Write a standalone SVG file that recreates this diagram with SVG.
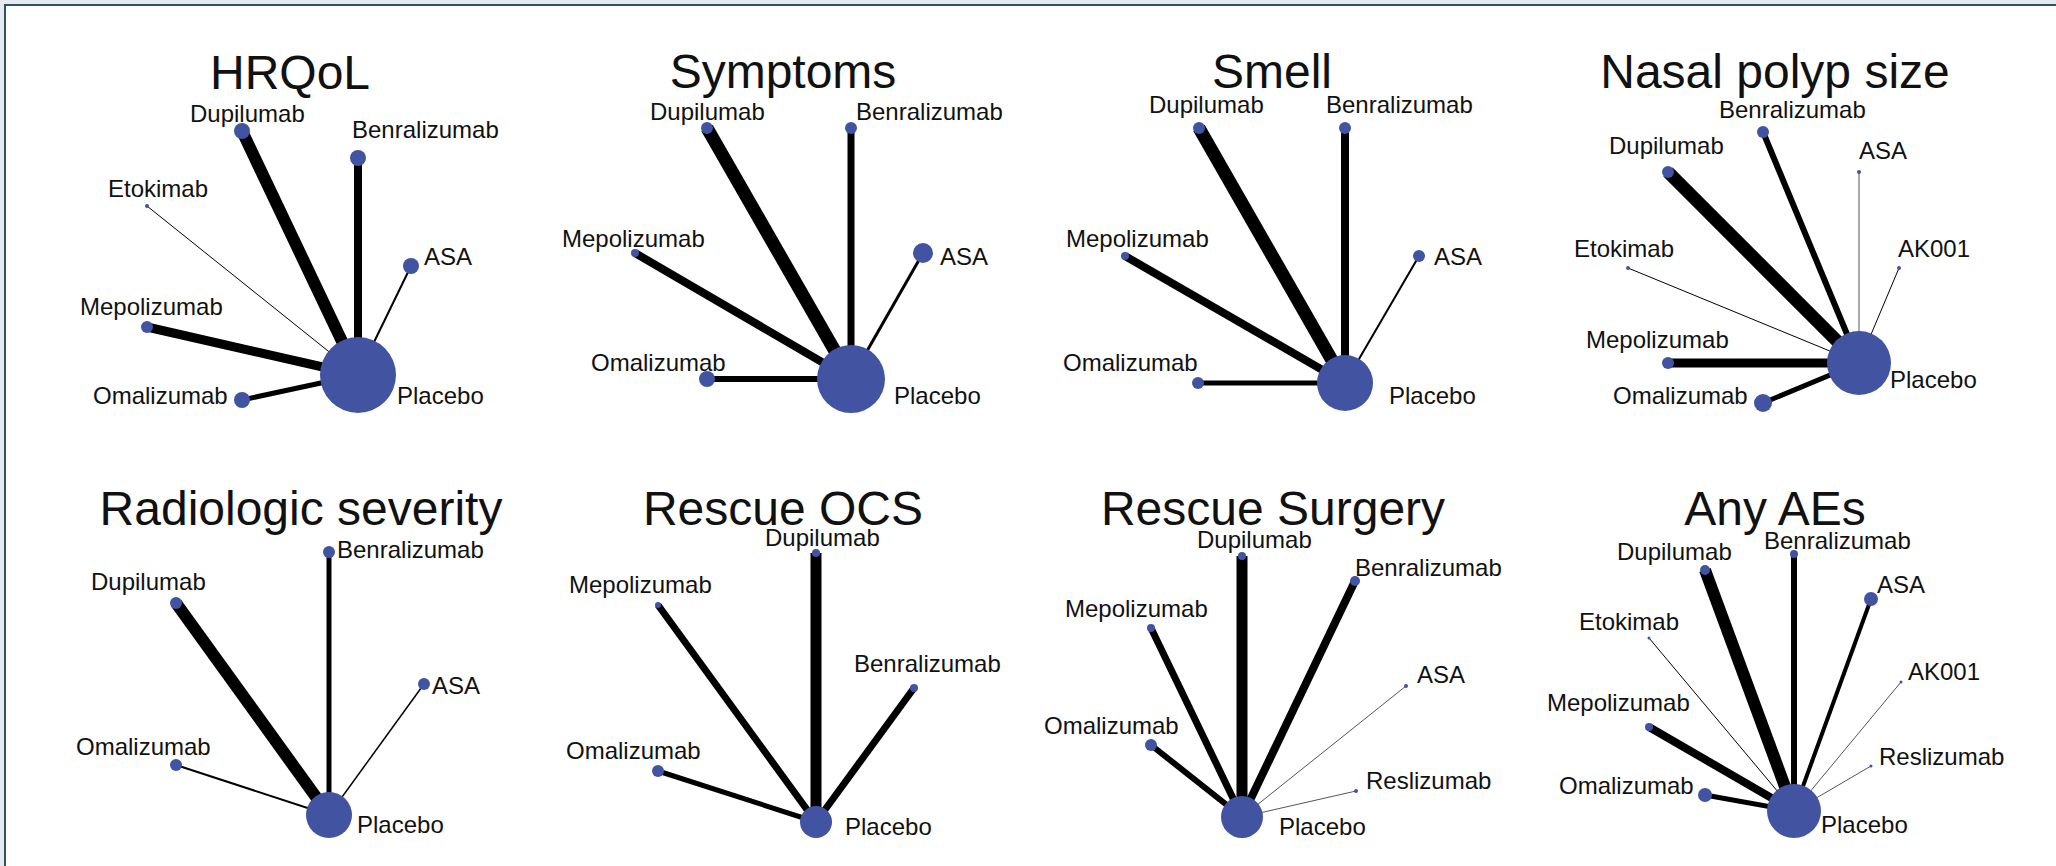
<svg xmlns="http://www.w3.org/2000/svg" width="2056" height="866" viewBox="0 0 2056 866">
<style>
.t{font-family:"Liberation Sans",Arial,sans-serif;font-size:48px;fill:#111;text-anchor:middle}
.l{font-family:"Liberation Sans",Arial,sans-serif;font-size:24px;fill:#111}
.n{fill:#4153A1}
.e{stroke:#000;fill:none}
.g{stroke:#555;fill:none}
</style>
<rect x="0" y="0" width="2056" height="866" fill="#ffffff"/>
<rect x="0" y="0" width="2056" height="4" fill="#e4eaef"/>
<rect x="0" y="0" width="4" height="866" fill="#e4eaef"/>
<line x1="4" y1="5" x2="2056" y2="5" stroke="#2d5266" stroke-width="2"/>
<line x1="5" y1="4" x2="5" y2="866" stroke="#2d5266" stroke-width="2"/>

<g id="connectors">
<!-- HRQoL -->
<line class="e" x1="242" y1="131" x2="358" y2="375" stroke-width="12"/>
<line class="e" x1="358" y1="158" x2="358" y2="375" stroke-width="8"/>
<line class="e" x1="147" y1="206" x2="358" y2="375" stroke-width="1"/>
<line class="e" x1="411" y1="266" x2="358" y2="375" stroke-width="2"/>
<line class="e" x1="147" y1="327" x2="358" y2="375" stroke-width="9"/>
<line class="e" x1="242" y1="400" x2="358" y2="375" stroke-width="5"/>
<!-- Symptoms -->
<line class="e" x1="707" y1="128" x2="851" y2="379" stroke-width="13"/>
<line class="e" x1="851" y1="128" x2="851" y2="379" stroke-width="7"/>
<line class="e" x1="635" y1="253" x2="851" y2="379" stroke-width="8"/>
<line class="e" x1="923" y1="253" x2="851" y2="379" stroke-width="3"/>
<line class="e" x1="707" y1="379" x2="851" y2="379" stroke-width="6"/>
<!-- Smell -->
<line class="e" x1="1199" y1="128" x2="1345" y2="383" stroke-width="13"/>
<line class="e" x1="1345" y1="128" x2="1345" y2="383" stroke-width="8"/>
<line class="e" x1="1125" y1="256" x2="1345" y2="383" stroke-width="8"/>
<line class="e" x1="1419" y1="256" x2="1345" y2="383" stroke-width="2"/>
<line class="e" x1="1198" y1="383" x2="1345" y2="383" stroke-width="5"/>
<!-- Nasal polyp size -->
<line class="e" x1="1668" y1="172" x2="1859" y2="363" stroke-width="13"/>
<line class="e" x1="1763" y1="132" x2="1859" y2="363" stroke-width="6"/>
<line class="g" x1="1859" y1="172" x2="1859" y2="363" stroke-width="1"/>
<line class="e" x1="1628" y1="268" x2="1859" y2="363" stroke-width="1"/>
<line class="e" x1="1899" y1="268" x2="1859" y2="363" stroke-width="1"/>
<line class="e" x1="1668" y1="363" x2="1859" y2="363" stroke-width="9"/>
<line class="e" x1="1763" y1="403" x2="1859" y2="363" stroke-width="5"/>
<!-- Radiologic severity -->
<line class="e" x1="176" y1="603" x2="329" y2="815" stroke-width="12"/>
<line class="e" x1="329" y1="552" x2="329" y2="815" stroke-width="5"/>
<line class="e" x1="424" y1="684" x2="329" y2="815" stroke-width="1.5"/>
<line class="e" x1="176" y1="765" x2="329" y2="815" stroke-width="2"/>
<!-- Rescue OCS -->
<line class="e" x1="816" y1="553" x2="816" y2="822" stroke-width="11"/>
<line class="e" x1="658" y1="605" x2="816" y2="822" stroke-width="7"/>
<line class="e" x1="914" y1="688" x2="816" y2="822" stroke-width="7"/>
<line class="e" x1="658" y1="771" x2="816" y2="822" stroke-width="5"/>
<!-- Rescue Surgery -->
<line class="e" x1="1242" y1="556" x2="1242" y2="817" stroke-width="11"/>
<line class="e" x1="1355" y1="581" x2="1242" y2="817" stroke-width="8"/>
<line class="e" x1="1151" y1="628" x2="1242" y2="817" stroke-width="7"/>
<line class="g" x1="1406" y1="686" x2="1242" y2="817" stroke-width="1"/>
<line class="e" x1="1151" y1="745" x2="1242" y2="817" stroke-width="6"/>
<line class="g" x1="1356" y1="791" x2="1242" y2="817" stroke-width="1"/>
<!-- Any AEs -->
<line class="e" x1="1705" y1="570" x2="1794" y2="811" stroke-width="12"/>
<line class="e" x1="1794" y1="554" x2="1794" y2="811" stroke-width="6"/>
<line class="e" x1="1871" y1="599" x2="1794" y2="811" stroke-width="4"/>
<line class="e" x1="1649" y1="638" x2="1794" y2="811" stroke-width="1"/>
<line class="g" x1="1901" y1="682" x2="1794" y2="811" stroke-width="1"/>
<line class="e" x1="1649" y1="727" x2="1794" y2="811" stroke-width="8"/>
<line class="g" x1="1871" y1="766" x2="1794" y2="811" stroke-width="1"/>
<line class="e" x1="1705" y1="795" x2="1794" y2="811" stroke-width="5"/>
</g>

<g id="panel-hrqol">
<text class="t" x="290" y="89">HRQoL</text>
<g id="hrqol-placebo"><circle class="n" cx="358" cy="375" r="38"/><text class="l" x="397" y="404">Placebo</text></g>
<g id="hrqol-dupilumab"><circle class="n" cx="242" cy="131" r="8"/><text class="l" x="190" y="122">Dupilumab</text></g>
<g id="hrqol-benralizumab"><circle class="n" cx="358" cy="158" r="8"/><text class="l" x="352" y="138">Benralizumab</text></g>
<g id="hrqol-etokimab"><circle class="n" cx="147" cy="206" r="2"/><text class="l" x="108" y="197">Etokimab</text></g>
<g id="hrqol-asa"><circle class="n" cx="411" cy="266" r="8"/><text class="l" x="424" y="265">ASA</text></g>
<g id="hrqol-mepolizumab"><circle class="n" cx="147" cy="327" r="6"/><text class="l" x="80" y="315">Mepolizumab</text></g>
<g id="hrqol-omalizumab"><circle class="n" cx="242" cy="400" r="8"/><text class="l" x="93" y="404">Omalizumab</text></g>
</g>

<g id="panel-symptoms">
<text class="t" x="783" y="88">Symptoms</text>
<g id="sym-placebo"><circle class="n" cx="851" cy="379" r="34"/><text class="l" x="894" y="404">Placebo</text></g>
<g id="sym-dupilumab"><circle class="n" cx="707" cy="128" r="6"/><text class="l" x="650" y="120">Dupilumab</text></g>
<g id="sym-benralizumab"><circle class="n" cx="851" cy="128" r="6"/><text class="l" x="856" y="120">Benralizumab</text></g>
<g id="sym-mepolizumab"><circle class="n" cx="635" cy="253" r="4"/><text class="l" x="562" y="247">Mepolizumab</text></g>
<g id="sym-asa"><circle class="n" cx="923" cy="253" r="10"/><text class="l" x="940" y="265">ASA</text></g>
<g id="sym-omalizumab"><circle class="n" cx="707" cy="379" r="8"/><text class="l" x="591" y="371">Omalizumab</text></g>
</g>

<g id="panel-smell">
<text class="t" x="1272" y="88">Smell</text>
<g id="smell-placebo"><circle class="n" cx="1345" cy="383" r="28"/><text class="l" x="1389" y="404">Placebo</text></g>
<g id="smell-dupilumab"><circle class="n" cx="1199" cy="128" r="6"/><text class="l" x="1149" y="113">Dupilumab</text></g>
<g id="smell-benralizumab"><circle class="n" cx="1345" cy="128" r="6"/><text class="l" x="1326" y="113">Benralizumab</text></g>
<g id="smell-mepolizumab"><circle class="n" cx="1125" cy="256" r="4"/><text class="l" x="1066" y="247">Mepolizumab</text></g>
<g id="smell-asa"><circle class="n" cx="1419" cy="256" r="6"/><text class="l" x="1434" y="265">ASA</text></g>
<g id="smell-omalizumab"><circle class="n" cx="1198" cy="383" r="6"/><text class="l" x="1063" y="371">Omalizumab</text></g>
</g>

<g id="panel-nasal">
<text class="t" x="1775" y="88">Nasal polyp size</text>
<g id="nps-placebo"><circle class="n" cx="1859" cy="363" r="32"/><text class="l" x="1890" y="388">Placebo</text></g>
<g id="nps-benralizumab"><circle class="n" cx="1763" cy="132" r="6"/><text class="l" x="1719" y="118">Benralizumab</text></g>
<g id="nps-dupilumab"><circle class="n" cx="1668" cy="172" r="6"/><text class="l" x="1609" y="154">Dupilumab</text></g>
<g id="nps-asa"><circle class="n" cx="1859" cy="172" r="2"/><text class="l" x="1859" y="159">ASA</text></g>
<g id="nps-etokimab"><circle class="n" cx="1628" cy="268" r="2"/><text class="l" x="1574" y="257">Etokimab</text></g>
<g id="nps-ak001"><circle class="n" cx="1899" cy="268" r="2"/><text class="l" x="1898" y="257">AK001</text></g>
<g id="nps-mepolizumab"><circle class="n" cx="1668" cy="363" r="6"/><text class="l" x="1586" y="348">Mepolizumab</text></g>
<g id="nps-omalizumab"><circle class="n" cx="1763" cy="403" r="9"/><text class="l" x="1613" y="404">Omalizumab</text></g>
</g>

<g id="panel-radiologic">
<text class="t" x="301" y="525">Radiologic severity</text>
<g id="rad-placebo"><circle class="n" cx="329" cy="815" r="23"/><text class="l" x="357" y="833">Placebo</text></g>
<g id="rad-benralizumab"><circle class="n" cx="329" cy="552" r="6"/><text class="l" x="337" y="558">Benralizumab</text></g>
<g id="rad-dupilumab"><circle class="n" cx="176" cy="603" r="6"/><text class="l" x="91" y="590">Dupilumab</text></g>
<g id="rad-asa"><circle class="n" cx="424" cy="684" r="6"/><text class="l" x="432" y="694">ASA</text></g>
<g id="rad-omalizumab"><circle class="n" cx="176" cy="765" r="6"/><text class="l" x="76" y="755">Omalizumab</text></g>
</g>

<g id="panel-ocs">
<text class="t" x="783" y="525">Rescue OCS</text>
<g id="ocs-placebo"><circle class="n" cx="816" cy="822" r="16"/><text class="l" x="845" y="835">Placebo</text></g>
<g id="ocs-dupilumab"><circle class="n" cx="816" cy="553" r="4"/><text class="l" x="765" y="546">Dupilumab</text></g>
<g id="ocs-mepolizumab"><circle class="n" cx="658" cy="605" r="3"/><text class="l" x="569" y="593">Mepolizumab</text></g>
<g id="ocs-benralizumab"><circle class="n" cx="914" cy="688" r="4"/><text class="l" x="854" y="672">Benralizumab</text></g>
<g id="ocs-omalizumab"><circle class="n" cx="658" cy="771" r="6"/><text class="l" x="566" y="759">Omalizumab</text></g>
</g>

<g id="panel-surgery">
<text class="t" x="1273" y="525">Rescue Surgery</text>
<g id="srg-placebo"><circle class="n" cx="1242" cy="817" r="21"/><text class="l" x="1279" y="835">Placebo</text></g>
<g id="srg-dupilumab"><circle class="n" cx="1242" cy="556" r="4"/><text class="l" x="1197" y="548">Dupilumab</text></g>
<g id="srg-benralizumab"><circle class="n" cx="1355" cy="581" r="5"/><text class="l" x="1355" y="576">Benralizumab</text></g>
<g id="srg-mepolizumab"><circle class="n" cx="1151" cy="628" r="4"/><text class="l" x="1065" y="617">Mepolizumab</text></g>
<g id="srg-asa"><circle class="n" cx="1406" cy="686" r="2"/><text class="l" x="1417" y="683">ASA</text></g>
<g id="srg-omalizumab"><circle class="n" cx="1151" cy="745" r="6"/><text class="l" x="1044" y="734">Omalizumab</text></g>
<g id="srg-reslizumab"><circle class="n" cx="1356" cy="791" r="2"/><text class="l" x="1366" y="789">Reslizumab</text></g>
</g>

<g id="panel-aes">
<text class="t" x="1775" y="525">Any AEs</text>
<g id="ae-placebo"><circle class="n" cx="1794" cy="811" r="27"/><text class="l" x="1821" y="833">Placebo</text></g>
<g id="ae-benralizumab"><circle class="n" cx="1794" cy="554" r="4"/><text class="l" x="1764" y="549">Benralizumab</text></g>
<g id="ae-dupilumab"><circle class="n" cx="1705" cy="570" r="5"/><text class="l" x="1617" y="560">Dupilumab</text></g>
<g id="ae-asa"><circle class="n" cx="1871" cy="599" r="7"/><text class="l" x="1877" y="593">ASA</text></g>
<g id="ae-etokimab"><circle class="n" cx="1649" cy="638" r="1.5"/><text class="l" x="1579" y="630">Etokimab</text></g>
<g id="ae-ak001"><circle class="n" cx="1901" cy="682" r="1.5"/><text class="l" x="1908" y="680">AK001</text></g>
<g id="ae-mepolizumab"><circle class="n" cx="1649" cy="727" r="4"/><text class="l" x="1547" y="711">Mepolizumab</text></g>
<g id="ae-reslizumab"><circle class="n" cx="1871" cy="766" r="1.5"/><text class="l" x="1879" y="765">Reslizumab</text></g>
<g id="ae-omalizumab"><circle class="n" cx="1705" cy="795" r="7"/><text class="l" x="1559" y="794">Omalizumab</text></g>
</g>
</svg>
